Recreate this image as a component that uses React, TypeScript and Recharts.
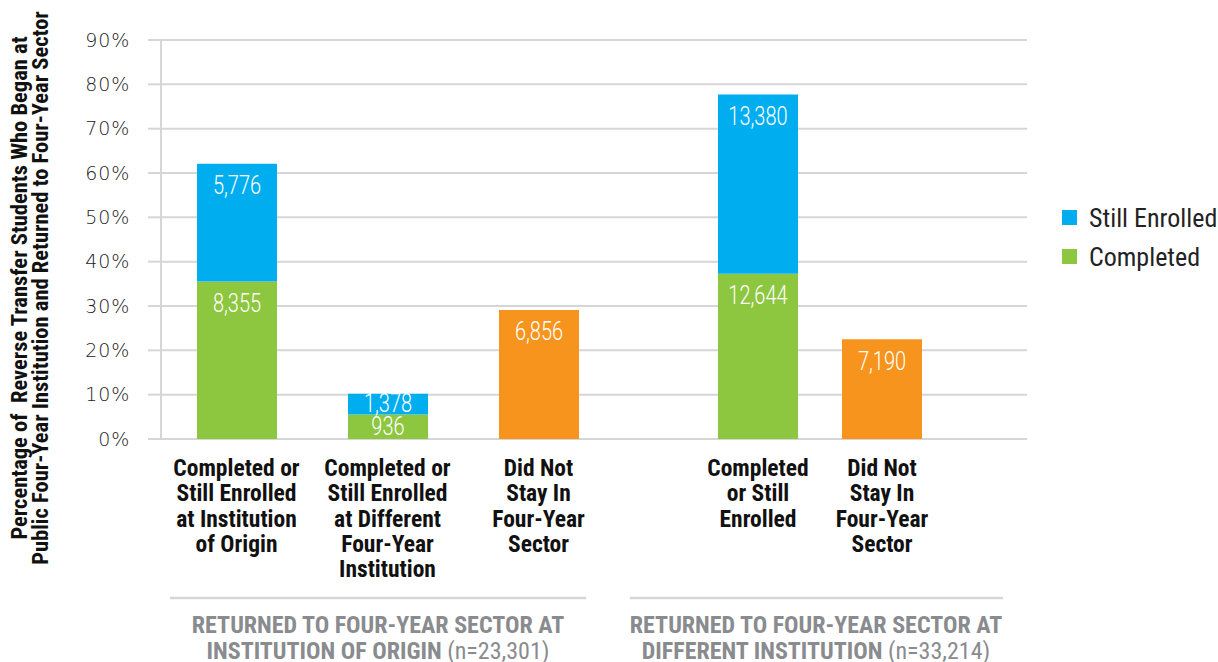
import React from 'react';
import { BarChart, Bar, XAxis, YAxis, CartesianGrid, LabelList, Legend } from 'recharts';

const NARROW = "'Liberation Sans Narrow', 'Arial Narrow', 'Roboto Condensed', Roboto, sans-serif";
const LIGHT = "'DejaVu Sans ExtraLight', 'DejaVu Sans', sans-serif";
const VALUE_FONT = "Roboto, 'Liberation Sans Narrow', sans-serif";

const BLUE = '#00AEEF';
const GREEN = '#8DC63F';
const ORANGE = '#F7941E';
const GRID = '#d6d6d6';

// ---------- data ----------
const yTicks = [0, 10, 20, 30, 40, 50, 60, 70, 80, 90];
const yTitleLines = [
  'Percentage of  Reverse Transfer Students Who Began at',
  'Public Four-Year Institution and Returned to Four-Year Sector',
];

const legendNames = ['Still Enrolled', 'Completed'];

const originCategories = [
  'Completed or\nStill Enrolled\nat Institution\nof Origin',
  'Completed or\nStill Enrolled\nat Different\nFour-Year\nInstitution',
  'Did Not\nStay In\nFour-Year\nSector',
];
const originCompleted = [35.5, 5.5, null];
const originStillEnrolled = [26.6, 4.7, null];
const originDidNotStay = [null, null, 29.1];
const originCompletedCounts = ['8,355', '936', ''];
const originStillEnrolledCounts = ['5,776', '1,378', ''];
const originDidNotStayCounts = ['', '', '6,856'];
const originGroupTitle = ['RETURNED TO FOUR-YEAR SECTOR AT', 'INSTITUTION OF ORIGIN'];
const originGroupN = '(n=23,301)';

const differentCategories = [
  'Completed\nor Still\nEnrolled',
  'Did Not\nStay In\nFour-Year\nSector',
];
const differentCompleted = [37.3, null];
const differentStillEnrolled = [40.4, null];
const differentDidNotStay = [null, 22.5];
const differentCompletedCounts = ['12,644', ''];
const differentStillEnrolledCounts = ['13,380', ''];
const differentDidNotStayCounts = ['', '7,190'];
const differentGroupTitle = ['RETURNED TO FOUR-YEAR SECTOR AT', 'DIFFERENT INSTITUTION'];
const differentGroupN = '(n=33,214)';

function buildRows(
  cats: string[],
  completed: (number | null)[],
  still: (number | null)[],
  notStay: (number | null)[],
  cL: string[],
  sL: string[],
  nL: string[]
) {
  return cats.map((name, i) => ({
    name,
    completed: completed[i],
    stillEnrolled: still[i],
    didNotStay: notStay[i],
    completedLabel: cL[i],
    stillEnrolledLabel: sL[i],
    didNotStayLabel: nL[i],
  }));
}

const originRows = buildRows(
  originCategories, originCompleted, originStillEnrolled, originDidNotStay,
  originCompletedCounts, originStillEnrolledCounts, originDidNotStayCounts
);
const differentRows = buildRows(
  differentCategories, differentCompleted, differentStillEnrolled, differentDidNotStay,
  differentCompletedCounts, differentStillEnrolledCounts, differentDidNotStayCounts
);

// ---------- renderers ----------
const ValueLabel = (props: any) => {
  const { x, y, width, height, value } = props;
  if (!value) return null;
  const cx = Number(x) + Number(width) / 2;
  const cy = Number(y) + Math.min(22, Number(height) / 2);
  return (
    <text
      transform={`translate(${cx}, ${cy}) scale(0.8, 1)`}
      x={0}
      y={0}
      textAnchor="middle"
      dominantBaseline="central"
      fill="#ffffff"
      fontFamily={VALUE_FONT}
      fontWeight={300}
      fontSize={25}
    >
      {value}
    </text>
  );
};

const CategoryTick = (props: any) => {
  const { x, y, payload } = props;
  const lines = String(payload.value).split('\n');
  return (
    <text x={x} y={y} textAnchor="middle" fontFamily={NARROW} fontWeight="bold" fontSize={23.5} fill="#111">
      {lines.map((l, i) => (
        <tspan key={i} x={x} dy={i === 0 ? 37 : 25.3}>
          {l}
        </tspan>
      ))}
    </text>
  );
};

const GroupTitle = (props: any) => {
  const { viewBox, lines, n, lineStart, lineEnd, center } = props;
  const vx = viewBox?.x ?? 0;
  const vy = viewBox?.y ?? 0;
  const cx = vx + center;
  return (
    <g>
      <line x1={vx + lineStart} x2={vx + lineEnd} y1={vy + 159} y2={vy + 159} stroke={GRID} strokeWidth={2.5} />
      <text x={cx} y={vy + 194} textAnchor="middle" fontFamily={NARROW} fontWeight="bold" fontSize={24} fill="#898b8e">
        {lines[0]}
      </text>
      <text x={cx} y={vy + 220} textAnchor="middle" fontFamily={NARROW} fontSize={24} fill="#898b8e">
        <tspan fontWeight="bold">{lines[1]}</tspan>
        <tspan> {n}</tspan>
      </text>
    </g>
  );
};

const YTitle = (props: any) => {
  const { viewBox } = props;
  const vx = viewBox?.x ?? 0;
  const vy = viewBox?.y ?? 0;
  return (
    <text
      transform={`translate(${vx}, ${vy + 248}) rotate(-90)`}
      textAnchor="middle"
      fontFamily={NARROW}
      fontWeight="bold"
      fontSize={22.5}
      fill="#111"
      style={{ whiteSpace: 'pre' }}
    >
      <tspan x={0} y={27}>{yTitleLines[0]}</tspan>
      <tspan x={0} y={48}>{yTitleLines[1]}</tspan>
    </text>
  );
};

const LegendContent = () => {
  const colors = [BLUE, GREEN];
  return (
    <div style={{ fontFamily: NARROW, fontSize: 26, color: '#222' }}>
      {legendNames.map((name, i) => (
        <div key={name} style={{ display: 'flex', alignItems: 'center', height: 39 }}>
          <span style={{ display: 'inline-block', width: 15, height: 15, background: colors[i], marginRight: 12 }} />
          <span>{name}</span>
        </div>
      ))}
    </div>
  );
};

function renderBars() {
  return [
    <Bar key="c" dataKey="completed" name="Completed" stackId="s" fill={GREEN} barSize={80} isAnimationActive={false}>
      <LabelList dataKey="completedLabel" content={<ValueLabel />} />
    </Bar>,
    <Bar key="e" dataKey="stillEnrolled" name="Still Enrolled" stackId="s" fill={BLUE} barSize={80} isAnimationActive={false}>
      <LabelList dataKey="stillEnrolledLabel" content={<ValueLabel />} />
    </Bar>,
    <Bar key="n" dataKey="didNotStay" name="Did Not Stay" stackId="s" fill={ORANGE} barSize={80} isAnimationActive={false}>
      <LabelList dataKey="didNotStayLabel" content={<ValueLabel />} />
    </Bar>,
  ];
}

export default function App() {
  return (
    <div style={{ position: 'absolute', left: 0, top: 0, width: 1218, height: 662, background: '#fff', overflow: 'hidden' }}>
      <div style={{ position: 'absolute', left: 0, top: 0 }}>
        <BarChart width={614} height={662} data={originRows} margin={{ top: 40, right: 0, bottom: 0, left: 0 }}>
          <CartesianGrid vertical={false} stroke={GRID} strokeWidth={2} />
          <YAxis
            type="number"
            domain={[0, 90]}
            ticks={yTicks}
            interval={0}
            width={161}
            tickSize={13}
            tickMargin={18}
            tickFormatter={(v: number) => `${v}%`}
            axisLine={{ stroke: GRID, strokeWidth: 2 }}
            tickLine={{ stroke: GRID, strokeWidth: 2 }}
            tick={{ fontFamily: LIGHT, fontWeight: 200, fontSize: 19, fill: '#222', letterSpacing: 0.8 }}
            label={<YTitle />}
          />
          <XAxis
            dataKey="name"
            type="category"
            height={223}
            axisLine={false}
            tickLine={false}
            tickSize={0}
            tickMargin={0}
            interval={0}
            tick={<CategoryTick />}
            label={<GroupTitle lines={originGroupTitle} n={originGroupN} lineStart={9} lineEnd={425} center={217} />}
          />
          {renderBars()}
        </BarChart>
      </div>
      <div style={{ position: 'absolute', left: 614, top: 0 }}>
        <BarChart width={604} height={662} data={differentRows} margin={{ top: 40, right: 31, bottom: 0, left: 0 }}>
          <CartesianGrid vertical={false} stroke={GRID} strokeWidth={2} />
          <YAxis type="number" domain={[0, 90]} ticks={yTicks} hide />
          <XAxis
            dataKey="name"
            type="category"
            height={223}
            axisLine={false}
            tickLine={false}
            tickSize={0}
            tickMargin={0}
            interval={0}
            padding={{ left: 82, right: 83 }}
            tick={<CategoryTick />}
            label={<GroupTitle lines={differentGroupTitle} n={differentGroupN} lineStart={16} lineEnd={389} center={202} />}
          />
          <Legend
            layout="vertical"
            align="right"
            verticalAlign="top"
            content={<LegendContent />}
            wrapperStyle={{ position: 'absolute', left: 448, top: 198, width: 160 }}
          />
          {renderBars()}
        </BarChart>
      </div>
    </div>
  );
}
